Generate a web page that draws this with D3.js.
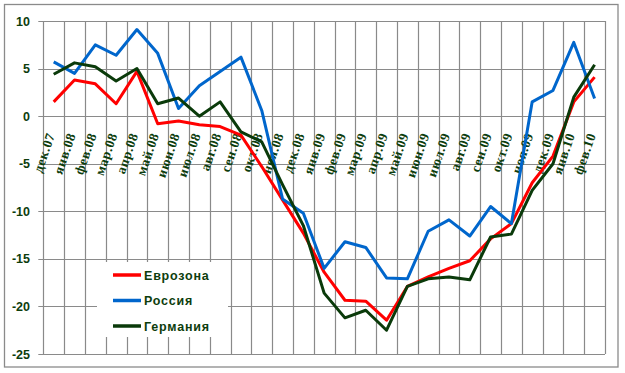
<!DOCTYPE html>
<html>
<head>
<meta charset="utf-8">
<script src="https://cdn.jsdelivr.net/npm/d3@7"></script>
<style>
  body { margin: 0; background: #fff; }
  svg { display: block; }
</style>
</head>
<body>
<div id="viz"></div>
<script>
'use strict';

const months = [
  'дек.07', 'янв.08', 'фев.08', 'мар.08', 'апр.08', 'май.08', 'июн.08',
  'июл.08', 'авг.08', 'сен.08', 'окт.08', 'ноя.08', 'дек.08', 'янв.09',
  'фев.09', 'мар.09', 'апр.09', 'май.09', 'июн.09', 'июл.09', 'авг.09',
  'сен.09', 'окт.09', 'ноя.09', 'дек.09', 'янв.10', 'фев.10'
];

const eurozone = [
  1.5, 3.8, 3.4, 1.3, 4.7, -0.8, -0.5, -0.9, -1.1, -2.0, -5.3, -8.8, -12.3,
  -16.4, -19.35, -19.45, -21.45, -17.9, -16.9, -16.0, -15.2, -12.9, -11.3,
  -7.0, -4.2, 1.5, 4.1
];

const russia = [
  5.7, 4.5, 7.5, 6.4, 9.1, 6.6, 0.8, 3.2, 4.7, 6.2, 0.6, -8.7, -10.2,
  -16.0, -13.2, -13.8, -17.0, -17.1, -12.1, -10.9, -12.6, -9.5, -11.3,
  1.5, 2.7, 7.75, 1.85
];

const germany = [
  4.4, 5.6, 5.2, 3.7, 5.0, 1.3, 1.9, 0.0, 1.5, -1.65, -2.7, -7.2, -11.5,
  -18.6, -21.2, -20.4, -22.5, -17.9, -17.1, -16.9, -17.2, -12.7, -12.4,
  -7.8, -5.0, 2.0, 5.4
];

const yTicks = [10, 5, 0, -5, -10, -15, -20, -25];

const seriesList = [
  {name: 'Еврозона', values: eurozone, color: '#ff0000'},
  {name: 'Россия', values: russia, color: '#0066cc'},
  {name: 'Германия', values: germany, color: '#0a3a0a'}
];

const textColor = '#0d3d0d';
const gridColor = '#8a8a8a';

const W = 625, H = 373;
const plot = {left: 43.3, right: 605, top: 21, bottom: 354};

const svg = d3.select('#viz')
  .append('svg')
    .attr('width', W)
    .attr('height', H);

// outer frame
svg.append('rect')
  .attr('x', 4.5)
  .attr('y', 4.5)
  .attr('width', 613.5)
  .attr('height', 362.5)
  .attr('fill', '#fff')
  .attr('stroke', gridColor)
  .attr('stroke-width', 1.3);

const x = d3.scaleBand()
  .domain(months)
  .range([plot.left, plot.right])
  .padding(0);

const y = d3.scaleLinear()
  .domain([-25, 10])
  .range([plot.bottom, plot.top]);

const cx = m => x(m) + x.bandwidth() / 2;

// horizontal grid + outward ticks
svg.append('g')
  .selectAll('line')
  .data(yTicks)
  .join('line')
    .attr('x1', plot.left - 5)
    .attr('x2', plot.right)
    .attr('y1', d => Math.round(y(d)) + 0.5)
    .attr('y2', d => Math.round(y(d)) + 0.5)
    .attr('stroke', gridColor)
    .attr('stroke-width', 1.2);

// vertical grid at category boundaries
const bounds = months.map(m => x(m)).concat([plot.right]);
svg.append('g')
  .selectAll('line')
  .data(bounds)
  .join('line')
    .attr('x1', d => Math.round(d) + 0.5)
    .attr('x2', d => Math.round(d) + 0.5)
    .attr('y1', plot.top)
    .attr('y2', plot.bottom)
    .attr('stroke', gridColor)
    .attr('stroke-width', 1.2);

// y tick labels
svg.append('g')
  .selectAll('text')
  .data(yTicks)
  .join('text')
    .attr('x', 30)
    .attr('y', d => y(d))
    .attr('dy', '0.36em')
    .attr('text-anchor', 'end')
    .attr('font-family', '"Liberation Sans", Arial, sans-serif')
    .attr('font-weight', 'bold')
    .attr('font-size', 12.5)
    .attr('fill', textColor)
    .text(d => d);

// category labels, rotated, hanging below the zero line
svg.append('g')
  .selectAll('text')
  .data(months)
  .join('text')
    .attr('transform', d => `translate(${cx(d) - 3},${y(0) + 17}) rotate(-71)`)
    .attr('dy', '0.35em')
    .attr('text-anchor', 'end')
    .attr('font-family', '"Liberation Serif", "Times New Roman", serif')
    .attr('font-weight', 'bold')
    .attr('font-size', 13.5)
    .attr('letter-spacing', 0.6)
    .attr('fill', textColor)
    .text(d => d);

// legend box covers the grid
const legend = svg.append('g');
legend.append('rect')
  .attr('x', 97)
  .attr('y', 262)
  .attr('width', 131)
  .attr('height', 75)
  .attr('fill', '#fff');

const line = d3.line()
  .x((d, i) => cx(months[i]))
  .y(d => y(d));

for (const s of seriesList) {
  svg.append('path')
    .datum(s.values)
    .attr('fill', 'none')
    .attr('stroke', s.color)
    .attr('stroke-width', 3)
    .attr('stroke-linejoin', 'round')
    .attr('d', line);
}

const rows = legend.selectAll('g.row')
  .data(seriesList)
  .join('g')
    .attr('class', 'row')
    .attr('transform', (d, i) => `translate(0,${275 + i * 25.5})`);

rows.append('line')
  .attr('x1', 113)
  .attr('x2', 141)
  .attr('stroke', d => d.color)
  .attr('stroke-width', 3.5);

rows.append('text')
  .attr('x', 144)
  .attr('dy', '0.36em')
  .attr('font-family', '"Liberation Sans", Arial, sans-serif')
  .attr('font-weight', 'bold')
  .attr('font-size', 12.5)
  .attr('letter-spacing', 0.8)
  .attr('fill', textColor)
  .text(d => d.name);
</script>
</body>
</html>
